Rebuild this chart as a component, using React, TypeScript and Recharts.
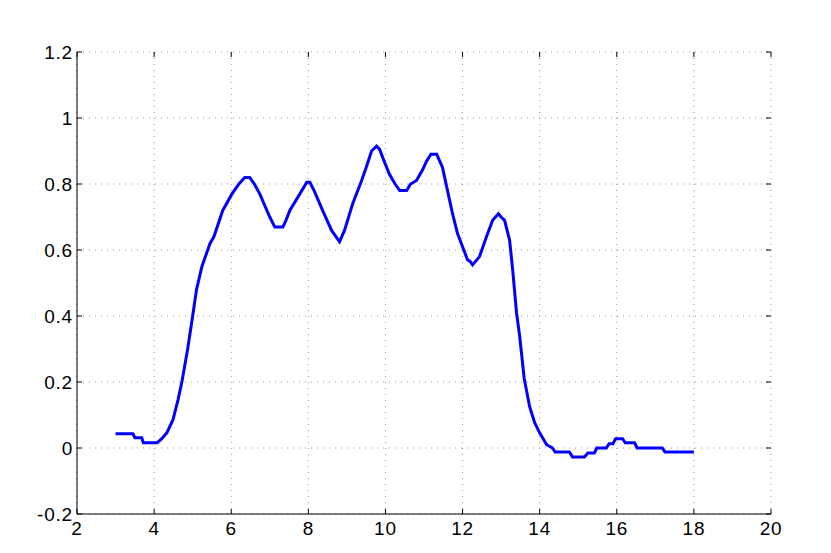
import { LineChart, Line, XAxis, YAxis, CartesianGrid } from "recharts";

const xValues = [
  3.0, 3.45, 3.5, 3.68, 3.72, 4.08, 4.2, 4.33, 4.49, 4.62, 4.72, 4.87, 5.0, 5.1,
  5.24, 5.45, 5.55, 5.78, 6.02, 6.2, 6.35, 6.48, 6.6, 6.74, 7.0, 7.13, 7.34,
  7.42, 7.52, 7.78, 7.96, 8.04, 8.15, 8.37, 8.6, 8.72, 8.81, 8.94, 9.15, 9.38,
  9.5, 9.64, 9.77, 9.85, 9.93, 10.1, 10.25, 10.37, 10.55, 10.65, 10.8, 10.95,
  11.07, 11.18, 11.33, 11.48, 11.61, 11.74, 11.87, 12.0, 12.13, 12.2, 12.26,
  12.44, 12.62, 12.78, 12.93, 13.0, 13.09, 13.22, 13.3, 13.4, 13.48, 13.6,
  13.74, 13.87, 14.0, 14.18, 14.33, 14.4, 14.77, 14.85, 15.16, 15.25, 15.42,
  15.48, 15.73, 15.8, 15.9, 15.97, 16.15, 16.22, 16.46, 16.53, 17.18, 17.25,
  18.0,
];

const yValues = [
  0.043, 0.043, 0.031, 0.031, 0.016, 0.016, 0.028, 0.046, 0.086, 0.146, 0.2,
  0.3, 0.4, 0.48, 0.55, 0.62, 0.64, 0.72, 0.77, 0.8, 0.82, 0.82, 0.8, 0.77, 0.7,
  0.67, 0.67, 0.69, 0.72, 0.77, 0.805, 0.805, 0.78, 0.72, 0.66, 0.64, 0.625,
  0.66, 0.74, 0.81, 0.85, 0.9, 0.915, 0.905, 0.88, 0.83, 0.8, 0.78, 0.78, 0.8,
  0.81, 0.84, 0.87, 0.89, 0.89, 0.85, 0.78, 0.71, 0.65, 0.61, 0.57, 0.565,
  0.555, 0.58, 0.64, 0.69, 0.71, 0.7, 0.69, 0.63, 0.54, 0.41, 0.34, 0.21, 0.125,
  0.077, 0.046, 0.01, 0.0, -0.012, -0.012, -0.027, -0.027, -0.015, -0.015, 0.0,
  0.0, 0.013, 0.013, 0.028, 0.028, 0.016, 0.016, 0.0, 0.0, -0.012, -0.012,
];

const xTicks = [2, 4, 6, 8, 10, 12, 14, 16, 18, 20];
const yTicks = [-0.2, 0, 0.2, 0.4, 0.6, 0.8, 1, 1.2];

const data = xValues.map((x, i) => ({ x, y: yValues[i] }));

const W = 831;
const H = 553;
const margin = { top: 52, right: 60, bottom: 9, left: 37 };
const yAxisW = 40;
const xAxisH = 30;
const plotLeft = margin.left + yAxisW;
const plotRight = W - margin.right;
const plotTop = margin.top;
const plotBottom = H - margin.bottom - xAxisH;
const TICK = 5;

const font = {
  fontFamily: "'Liberation Sans', Arial, sans-serif",
  fontSize: 19,
  letterSpacing: 0.8,
};

// x label plus inward tick marks on bottom and top edges
const XTick = (props: any) => {
  const { x, y, payload } = props;
  const c = payload.coordinate;
  return (
    <g>
      <line x1={c} x2={c} y1={plotBottom} y2={plotBottom - TICK} stroke="#000" />
      <line x1={c} x2={c} y1={plotTop} y2={plotTop + TICK} stroke="#000" />
      <text x={x} y={y} dy="0.71em" textAnchor="middle" fill="#000" {...font}>
        {payload.value}
      </text>
    </g>
  );
};

// y label plus inward tick marks on left and right edges
const YTick = (props: any) => {
  const { x, y, payload } = props;
  const c = payload.coordinate;
  return (
    <g>
      <line x1={plotLeft} x2={plotLeft + TICK} y1={c} y2={c} stroke="#000" />
      <line x1={plotRight} x2={plotRight - TICK} y1={c} y2={c} stroke="#000" />
      <text x={x} y={y} dy="0.355em" textAnchor="end" fill="#000" {...font}>
        {payload.value}
      </text>
    </g>
  );
};

export default function App() {
  return (
    <div style={{ position: "absolute", left: 0, top: 0, background: "#fff" }}>
      <LineChart width={W} height={H} data={data} margin={margin}>
        <CartesianGrid stroke="#999" strokeDasharray="1 5" />
        <XAxis
          dataKey="x"
          type="number"
          domain={[2, 20]}
          ticks={xTicks}
          height={xAxisH}
          axisLine={{ stroke: "#000" }}
          tickLine={false}
          tickSize={0}
          tickMargin={8}
          tick={XTick}
          interval={0}
          allowDataOverflow
        />
        <XAxis
          xAxisId="top"
          orientation="top"
          type="number"
          domain={[2, 20]}
          height={0}
          axisLine={{ stroke: "#000" }}
          tickLine={false}
          tick={false}
        />
        <YAxis
          type="number"
          domain={[-0.2, 1.2]}
          ticks={yTicks}
          width={yAxisW}
          axisLine={{ stroke: "#000" }}
          tickLine={false}
          tickSize={0}
          tickMargin={4}
          tick={YTick}
          interval={0}
          allowDataOverflow
        />
        <YAxis
          yAxisId="right"
          orientation="right"
          type="number"
          domain={[-0.2, 1.2]}
          width={0}
          axisLine={{ stroke: "#000" }}
          tickLine={false}
          tick={false}
        />
        <Line
          type="linear"
          dataKey="y"
          stroke="#0000ff"
          strokeWidth={3}
          dot={false}
          isAnimationActive={false}
        />
      </LineChart>
    </div>
  );
}
